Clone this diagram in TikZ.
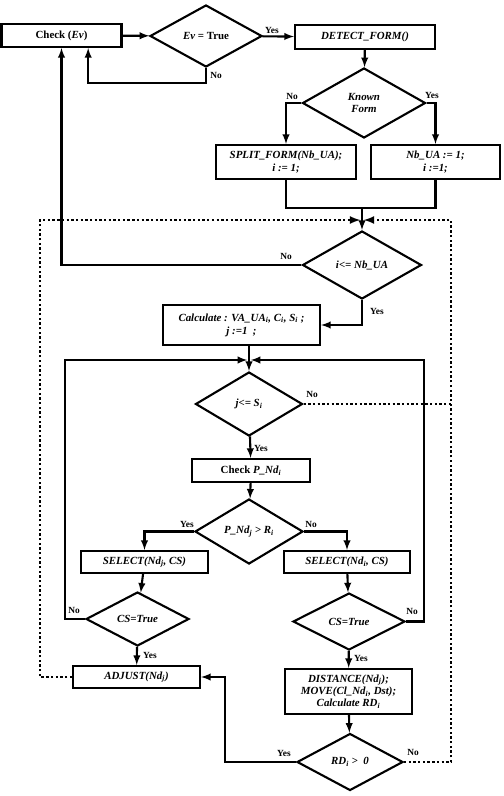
\documentclass[tikz,border=0pt]{standalone}
\usepackage{fontspec}
\setmainfont{Liberation Serif}
\usetikzlibrary{shapes.geometric}

\begin{document}
\begin{tikzpicture}[x=0.03cm, y=-0.03cm, >=latex, line width=1.8pt,
    every node/.style={font=\fontsize{9.3}{10}\selectfont\bfseries}]
    \tikzstyle{box}=[draw, align=center, inner sep=2pt, minimum height=0.66cm]
    \tikzstyle{test}=[draw, diamond, align=center, inner sep=0pt, font=\fontsize{9.3}{10.5}\selectfont\bfseries\itshape]
    \tikzstyle{lbl}=[font=\fontsize{8}{9}\selectfont\bfseries, inner sep=1pt]
    \tikzstyle{dotline}=[line width=2pt, dash pattern=on 2pt off 2pt]
    \useasboundingbox (0,0) rectangle (503,796);
    % top row
    \node[box, minimum width=3.6cm, minimum height=0.69cm] (check) at (61.5,35.5) {Check (\textit{Ev})};
    \node[test, minimum width=3.36cm, minimum height=1.86cm] (evd) at (206,36) {\textit{\bfseries Ev} \upshape= True};
    \node[box, minimum width=4.2cm, minimum height=0.72cm, font=\fontsize{9.3}{10}\selectfont\bfseries\itshape] (detect) at (365,37) {DETECT\_FORM()};
    \node[test, minimum width=3.69cm, minimum height=2.1cm] (known) at (364,103) {Known\\Form};
    \node[box, minimum width=4.2cm, minimum height=1.02cm, font=\fontsize{9.3}{11}\selectfont\bfseries\itshape] (split) at (286,162) {SPLIT\_FORM(Nb\_UA);\\i := 1;};
    \node[box, minimum width=3.87cm, minimum height=1.02cm, font=\fontsize{9.3}{11}\selectfont\bfseries\itshape] (nbua) at (435.5,162) {Nb\_UA := 1;\\i :=1;};
    % outer loop
    \node[test, minimum width=3.57cm, minimum height=2.04cm] (idiam) at (362,265) {i<= Nb\_UA};
    \node[box, minimum width=4.71cm, minimum height=1.2cm, font=\fontsize{9.3}{11}\selectfont\bfseries\itshape] (calc) at (241.5,325) {Calculate : VA\_UA\textsubscript{i}, C\textsubscript{i}, S\textsubscript{i} ;\\j :=1\ \ ;};
    % inner loop
    \node[test, minimum width=3.21cm, minimum height=1.92cm] (jdiam) at (249,404) {j<= S\textsubscript{i}};
    \node[box, minimum width=3.54cm, minimum height=0.69cm] (checkp) at (251,470.5) {Check \textit{P\_Nd\textsubscript{i}}};
    \node[test, minimum width=3.24cm, minimum height=1.95cm] (pdiam) at (249,531.5) {P\_Nd\textsubscript{j} > R\textsubscript{i}};
    \node[box, minimum width=3.81cm, font=\fontsize{9.3}{10}\selectfont\bfseries\itshape] (selj) at (144.5,562) {SELECT(Nd\textsubscript{j}, CS)};
    \node[box, minimum width=3.78cm, font=\fontsize{9.3}{10}\selectfont\bfseries\itshape] (seli) at (347,562) {SELECT(Nd\textsubscript{i}, CS)};
    \node[test, minimum width=3.09cm, minimum height=1.62cm] (csl) at (137.5,619) {CS=True};
    \node[test, minimum width=3.36cm, minimum height=1.71cm] (csr) at (349,621.5) {CS=True};
    \node[box, minimum width=3.81cm, font=\fontsize{9.3}{10}\selectfont\bfseries\itshape] (adjust) at (136.5,677) {ADJUST(Nd\textsubscript{j})};
    \node[box, minimum width=3.81cm, minimum height=1.35cm, font=\fontsize{9.3}{10.5}\selectfont\bfseries\itshape] (dist) at (348.5,691.5) {DISTANCE(Nd\textsubscript{j});\\MOVE(Cl\_Nd\textsubscript{i}, Dst);\\Calculate RD\textsubscript{i}};
    \node[test, minimum width=3.18cm, minimum height=1.71cm] (rdd) at (350,762) {RD\textsubscript{i} >\ \ 0};
    % merge points
    \coordinate (mergeA) at (362,208);
    \coordinate (topin) at (362,220);
    \coordinate (topj) at (249,360);
    % labels
    \node[lbl] (l1) at (272,30) {Yes};
    \node[lbl] (l2) at (216,75) {No};
    \node[lbl] (l3) at (292,96) {No};
    \node[lbl] (l4) at (432,95) {Yes};
    \node[lbl] (l5) at (286,256) {No};
    \node[lbl] (l6) at (377,311) {Yes};
    \node[lbl] (l7) at (312,394) {No};
    \node[lbl] (l8) at (261,448) {Yes};
    \node[lbl] (l9) at (187,524) {Yes};
    \node[lbl] (l10) at (311,524) {No};
    \node[lbl] (l11) at (74,610) {No};
    \node[lbl] (l12) at (150,655) {Yes};
    \node[lbl] (l13) at (412,611) {No};
    \node[lbl] (l14) at (361,658) {Yes};
    \node[lbl] (l15) at (284,753) {Yes};
    \node[lbl] (l16) at (413,752) {No};
    % connectors
    \draw[->] (check) -- (evd);
    \draw[->] (evd) -- (detect);
    \draw[->] (evd.south) -- ++(0,15) -| ([xshift=0.8cm]check.south);
    \draw[->] (detect) -- (known);
    \draw[->] (known.west) -| (split.north);
    \draw[->] (known.east) -| (nbua.north);
    \draw (split.south) |- (mergeA) -| (nbua.south);
    \draw[->] (mergeA) -- (idiam.north);
    \draw[->] (idiam.west) -| (check.south);
    \draw[->] (idiam.south) |- (calc.east);
    \draw[->] (calc.south -| jdiam.north) -- (jdiam.north);
    \draw[->] (jdiam) -- (checkp);
    \draw[->] (checkp) -- (pdiam);
    \draw[->] (pdiam.west) -| (selj.north);
    \draw[->] (pdiam.east) -| (seli.north);
    \draw[->] (selj) -- (csl);
    \draw[->] (seli) -- (csr);
    \draw[->] (csl) -- (adjust);
    \draw[->] (csr) -- (dist);
    \draw[->] (dist) -- (rdd);
    \draw[->, shorten >=1.5pt] (csl.west) -| (65,360) -- (topj);
    \draw[->, shorten >=1.5pt] (csr.east) -| (424,360) -- (topj);
    \draw[->] (rdd.west) -| (225,677) -- (adjust.east);
    % dotted loop back
    \draw[->, dotline, shorten >=1.5pt] (adjust.west) -| (40,220) -- (topin);
    \draw[->, dotline, shorten >=1.5pt] (rdd.east) -| (451,220) -- (topin);
    \draw[dotline] (jdiam.east) -- (451,404);
\end{tikzpicture}
\end{document}
